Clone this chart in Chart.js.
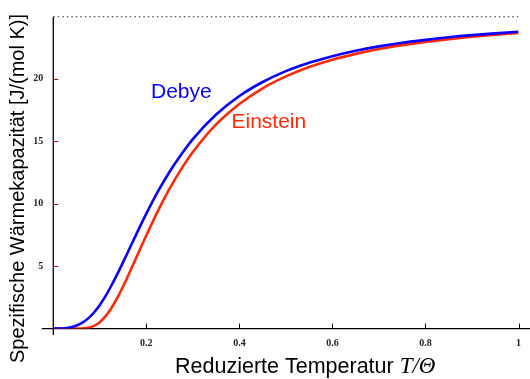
<!DOCTYPE html>
<html>
<head>
<meta charset="utf-8">
<script src="https://cdn.jsdelivr.net/npm/chart.js@4/dist/chart.umd.min.js"></script>
<style>
html,body{margin:0;padding:0;background:#fff;}
#c{display:block;}
</style>
</head>
<body>
<canvas id="c" width="530" height="379"></canvas>
<script>
// Reduced temperature T/Θ
const tValues = [0, 0.0125, 0.025, 0.0375, 0.05, 0.0625, 0.075, 0.0875, 0.1, 0.1125, 0.125, 0.1375, 0.15, 0.1625, 0.175, 0.1875, 0.2, 0.225, 0.25, 0.275, 0.3, 0.35, 0.4, 0.45, 0.5, 0.55, 0.6, 0.65, 0.7, 0.75, 0.8, 0.85, 0.9, 0.95, 1];
// Specific heat capacity, J/(mol K)
const debyeValues = [0, 0.004, 0.030, 0.103, 0.243, 0.474, 0.818, 1.288, 1.890, 2.617, 3.447, 4.355, 5.312, 6.293, 7.279, 8.251, 9.193, 10.966, 12.547, 13.93, 15.16, 17.12, 18.60, 19.72, 20.59, 21.26, 21.79, 22.22, 22.57, 22.86, 23.09, 23.30, 23.47, 23.61, 23.74];
const einsteinValues = [0, 0, 0, 0, 0.001, 0.010, 0.062, 0.212, 0.512, 0.992, 1.648, 2.452, 3.371, 4.366, 5.398, 6.436, 7.46, 9.42, 11.19, 12.75, 14.12, 16.33, 17.97, 19.22, 20.17, 20.92, 21.51, 21.97, 22.36, 22.67, 22.93, 23.15, 23.34, 23.50, 23.64];
// Dulong-Petit limit 3R
const limitX = [0, 1];
const limitY = [24.94, 24.94];
const xTicks = [0.2, 0.4, 0.6, 0.8, 1];
const yTicks = [5, 10, 15, 20];

const BLUE = '#0a00ff';
const RED = '#ff2a08';

const pts = (xs, ys) => xs.map((x, i) => ({x: x, y: ys[i]}));

const axesPlugin = {
  id: 'axesPlugin',
  beforeDatasetsDraw(chart) {
    const ctx = chart.ctx;
    const xs = chart.scales.x, ys = chart.scales.y;
    const x0 = xs.getPixelForValue(0);
    const y0 = ys.getPixelForValue(0);
    const area = chart.chartArea;
    ctx.save();
    ctx.strokeStyle = '#000';
    ctx.lineWidth = 1.3;
    // y axis
    ctx.beginPath();
    ctx.moveTo(x0, area.top + 0.7);
    ctx.lineTo(x0, y0 + 6.5);
    ctx.stroke();
    // x axis
    ctx.beginPath();
    ctx.moveTo(x0 - 11.5, y0);
    ctx.lineTo(chart.width, y0);
    ctx.stroke();
    // x tick marks
    ctx.lineWidth = 1;
    xTicks.forEach(v => {
      const px = Math.round(xs.getPixelForValue(v)) + 0.5;
      ctx.beginPath();
      ctx.moveTo(px, y0);
      ctx.lineTo(px, y0 - 5);
      ctx.stroke();
    });
    // y tick marks
    ctx.strokeStyle = '#9a1a12';
    yTicks.forEach(v => {
      const py = Math.round(ys.getPixelForValue(v)) + 0.5;
      ctx.beginPath();
      ctx.moveTo(x0, py);
      ctx.lineTo(x0 + 5, py);
      ctx.stroke();
    });
    ctx.restore();
  },
  afterDraw(chart) {
    const ctx = chart.ctx;
    ctx.save();
    // Series labels
    ctx.font = '21px "Liberation Sans", Arial, sans-serif';
    ctx.textBaseline = 'alphabetic';
    ctx.textAlign = 'left';
    ctx.fillStyle = BLUE;
    ctx.fillText('Debye', 151, 97.5);
    ctx.fillStyle = RED;
    ctx.fillText('Einstein', 231.5, 128);
    // X axis title
    ctx.fillStyle = '#000';
    const part1 = 'Reduzierte Temperatur ';
    const part2 = 'T/\u0398';
    ctx.font = '21.5px "Liberation Sans", Arial, sans-serif';
    const w1 = ctx.measureText(part1).width;
    ctx.fillText(part1, 175, 372.5);
    ctx.font = 'italic 23px "Liberation Serif", "Times New Roman", serif';
    ctx.fillText(part2, 175 + w1, 372.5);
    // Y axis title
    ctx.translate(24, 188.5);
    ctx.rotate(-Math.PI / 2);
    ctx.textAlign = 'center';
    ctx.font = '20px "Liberation Sans", Arial, sans-serif';
    ctx.fillText('Spezifische W\u00e4rmekapazit\u00e4t [J/(mol K)]', 0, 0);
    ctx.restore();
  }
};

new Chart(document.getElementById('c'), {
  type: 'line',
  data: {
    datasets: [
      {
        label: 'Debye',
        data: pts(tValues, debyeValues),
        borderColor: BLUE,
        borderWidth: 2.6,
        pointRadius: 0,
        cubicInterpolationMode: 'monotone',
        fill: false
      },
      {
        label: 'Einstein',
        data: pts(tValues, einsteinValues),
        borderColor: RED,
        borderWidth: 2.6,
        pointRadius: 0,
        cubicInterpolationMode: 'monotone',
        fill: false
      },
      {
        label: '3R',
        data: pts(limitX, limitY),
        borderColor: '#222',
        borderWidth: 1,
        borderDash: [1.5, 3],
        pointRadius: 0,
        fill: false
      }
    ]
  },
  options: {
    responsive: false,
    animation: false,
    events: [],
    layout: { padding: { top: 7.3, right: 10, left: 0, bottom: 0 } },
    plugins: { legend: { display: false }, tooltip: { enabled: false } },
    scales: {
      x: {
        type: 'linear',
        min: 0,
        max: 1,
        border: { display: false },
        grid: { display: false, drawTicks: false },
        afterBuildTicks: s => { s.ticks = xTicks.map(v => ({value: v})); },
        afterFit: s => { s.height = 50.4; },
        ticks: {
          padding: 9,
          color: '#222',
          font: { family: '"Liberation Serif", "Times New Roman", serif', size: 10, weight: 'bold' },
          callback: v => (v === 1 ? '1' : v.toFixed(1))
        }
      },
      y: {
        type: 'linear',
        min: 0,
        max: 25,
        border: { display: false },
        grid: { display: false, drawTicks: false },
        afterBuildTicks: s => { s.ticks = yTicks.map(v => ({value: v})); },
        afterFit: s => { s.width = 53.3; },
        ticks: {
          padding: 10,
          color: '#222',
          font: { family: '"Liberation Serif", "Times New Roman", serif', size: 10, weight: 'bold' },
          callback: v => String(v)
        }
      }
    }
  },
  plugins: [axesPlugin]
});
</script>
</body>
</html>
